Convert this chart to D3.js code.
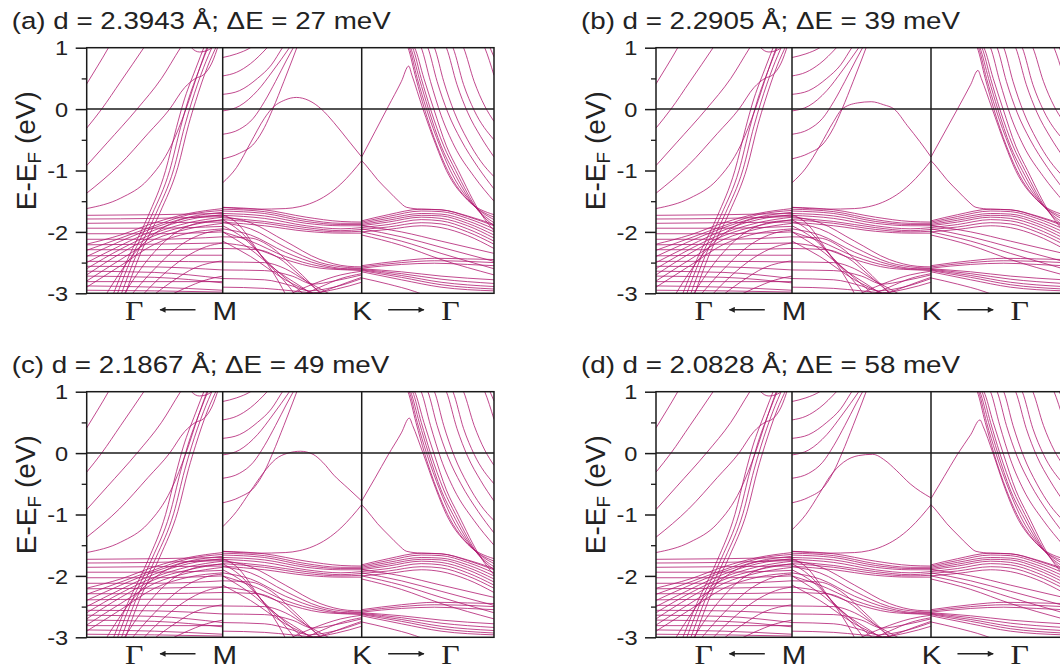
<!DOCTYPE html>
<html>
<head>
<meta charset="utf-8">
<script src="https://cdn.jsdelivr.net/npm/d3@7"></script>
<style>
  body { margin: 0; background: #fff; }
  svg { display: block; }
</style>
</head>
<body>
<div id="chart"></div>
<script>

//~~~~~~~~~~~~~~~~~~DATA

// panel titles
const panelTags = ['(a)', '(b)', '(c)', '(d)'];
const distances = ['2.3943', '2.2905', '2.1867', '2.0828'];
const deltaE = [27, 39, 49, 58];

// y axis ticks (eV)
const yTicks = [1, 0, -1, -2, -3];
const yMinorTicks = [0.5, -0.5, -1.5, -2.5];

// k-path labels
const pathLabels = ['\u0393', 'M', 'K', '\u0393'];

// bands are lists of [t, E],
// t goes 0..1 inside each piece of the k-path

// piece 1: left edge (towards Gamma) -> M
const bandsGM = [
  // free-electron-like bands
  [[0, 0.41], [0.08, 0.7], [0.16, 1.0], [0.22, 1.25]],
  [[0, -0.31], [0.11, 0], [0.25, 0.45], [0.42, 1.0], [0.48, 1.2]],
  [[0, -0.92], [0.15, -0.55], [0.37, 0], [0.55, 0.5], [0.69, 1.0], [0.75, 1.2]],
  [[0, -1.37], [0.24, -0.91], [0.45, -0.4], [0.61, 0], [0.72, 0.35], [0.8, 0.5], [0.86, 0.56], [0.92, 0.75], [0.97, 1.05]],
  [[0, -1.62], [0.25, -1.45], [0.45, -1.15], [0.62, -0.6], [0.73, 0], [0.82, 0.6], [0.9, 1.1]],
  [[0.73, 1.15], [0.77, 1.0], [0.83, 0.93], [0.88, 0.95], [0.93, 1.03], [0.96, 1.15]],
  // steep bands coming up from the bottom
  [[0.18, -3.1], [0.3, -2.45], [0.45, -1.75], [0.58, -1.0], [0.66, -0.3], [0.71, 0.1], [0.8, 0.65], [0.87, 1.05]],
  [[0.21, -3.1], [0.33, -2.42], [0.48, -1.72], [0.61, -1.0], [0.69, -0.3], [0.74, 0.1], [0.83, 0.66], [0.9, 1.05]],
  [[0.24, -3.1], [0.36, -2.4], [0.51, -1.7], [0.64, -0.98], [0.72, -0.28], [0.77, 0.1], [0.86, 0.68], [0.93, 1.05]],
  [[0.27, -3.1], [0.39, -2.38], [0.54, -1.68], [0.67, -0.95], [0.75, -0.25], [0.8, 0.12], [0.89, 0.7], [0.96, 1.05]],
  // main dispersive bundle rising to M
  [[0, -2.2], [0.25, -2.05], [0.5, -1.85], [0.75, -1.7], [1, -1.62]],
  [[0, -2.3], [0.25, -2.1], [0.5, -1.9], [0.75, -1.72], [1, -1.65]],
  [[0, -2.4], [0.25, -2.15], [0.5, -1.93], [0.75, -1.76], [1, -1.68]],
  [[0, -2.5], [0.25, -2.22], [0.5, -1.97], [0.75, -1.8], [1, -1.72]],
  [[0, -2.6], [0.25, -2.28], [0.5, -2.02], [0.75, -1.85], [1, -1.76]],
  [[0, -2.7], [0.25, -2.35], [0.5, -2.06], [0.75, -1.9], [1, -1.8]],
  [[0, -2.8], [0.25, -2.45], [0.5, -2.12], [0.75, -1.95], [1, -1.86]],
  [[0, -2.9], [0.25, -2.55], [0.5, -2.2], [0.75, -2.02], [1, -1.95]],
  // flat bands
  [[0, -1.73], [0.5, -1.72], [1, -1.7]],
  [[0, -1.79], [0.5, -1.78], [1, -1.75]],
  [[0, -1.86], [0.5, -1.85], [1, -1.84]],
  [[0, -1.94], [0.5, -1.94], [1, -1.91]],
  [[0, -2.03], [0.5, -2.03], [1, -2.0]],
  [[0, -2.12], [0.5, -2.12], [1, -2.08]],
  [[0, -2.21], [0.5, -2.2], [1, -2.18]],
  [[0, -2.29], [0.5, -2.29], [1, -2.27]],
  [[0, -2.39], [0.5, -2.38], [1, -2.38]],
  [[0, -2.48], [0.5, -2.48], [1, -2.49]],
  [[0, -2.56], [0.5, -2.57], [1, -2.62]],
  [[0, -2.64], [0.5, -2.66], [1, -2.76]],
  [[0, -2.72], [0.5, -2.74], [1, -2.83]],
  [[0, -2.81], [0.5, -2.81], [1, -2.81]],
  [[0, -2.88], [0.5, -2.9], [1, -2.95]],
  [[0, -2.95], [0.5, -2.96], [1, -2.98]],
  // domes rising from the bottom towards M
  [[0.12, -3.1], [0.35, -2.35], [0.55, -1.95], [0.78, -1.76], [1, -1.73]],
  [[0.25, -3.1], [0.45, -2.45], [0.65, -2.02], [0.85, -1.84], [1, -1.81]],
  [[0.3, -3.1], [0.5, -2.6], [0.7, -2.2], [0.87, -2.02], [1, -1.97]],
  [[0.38, -3.1], [0.55, -2.72], [0.72, -2.42], [0.88, -2.24], [1, -2.18]],
  [[0.45, -3.1], [0.62, -2.82], [0.8, -2.58], [1, -2.47]],
  [[0.55, -3.1], [0.72, -2.92], [0.88, -2.78], [1, -2.72]]
];

// piece 2: M -> K
const bandsMK = [
  // bands leaving through the top
  [[0, 0.84], [0.1, 0.9], [0.2, 1.0], [0.25, 1.08]],
  [[0, 0.54], [0.1, 0.6], [0.2, 0.74], [0.32, 1.0], [0.36, 1.1]],
  [[0, 0.24], [0.12, 0.3], [0.25, 0.5], [0.35, 0.72], [0.43, 1.0], [0.46, 1.1]],
  [[0, -0.03], [0.12, 0.05], [0.25, 0.3], [0.36, 0.62], [0.48, 1.0], [0.51, 1.1]],
  [[0, -0.41], [0.12, -0.33], [0.22, -0.15], [0.3, 0.12], [0.38, 0.45], [0.46, 0.8], [0.52, 1.05]],
  [[0, -0.81], [0.12, -0.72], [0.23, -0.55], [0.3, -0.3], [0.36, 0], [0.44, 0.45], [0.5, 0.8], [0.55, 1.1]],
  // lower Dirac band
  [[0, -1.6], [0.25, -1.63], [0.45, -1.62], [0.55, -1.59], [0.65, -1.52], [0.75, -1.4], [0.85, -1.22], [0.93, -1.03], [1, -0.84]],
  // bundle M -> K around -1.8
  [[0, -1.6], [0.3, -1.64], [0.6, -1.76], [0.85, -1.83], [1, -1.84]],
  [[0, -1.63], [0.3, -1.67], [0.6, -1.8], [0.85, -1.86], [1, -1.86]],
  [[0, -1.66], [0.3, -1.7], [0.6, -1.83], [0.85, -1.88], [1, -1.88]],
  [[0, -1.7], [0.3, -1.74], [0.6, -1.86], [0.85, -1.9], [1, -1.9]],
  [[0, -1.73], [0.3, -1.78], [0.6, -1.9], [0.85, -1.95], [1, -1.93]],
  [[0, -1.77], [0.3, -1.83], [0.6, -1.93], [0.85, -1.98], [1, -1.96]],
  [[0, -1.8], [0.3, -1.86], [0.6, -1.96], [0.85, -2.0], [1, -1.99]],
  [[0, -1.84], [0.3, -1.9], [0.6, -1.99], [0.85, -2.02], [1, -2.02]],
  // bands falling into K near -2.6
  [[0, -1.75], [0.2, -1.85], [0.45, -2.15], [0.7, -2.45], [0.9, -2.56], [1, -2.57]],
  [[0, -1.85], [0.2, -1.95], [0.45, -2.25], [0.7, -2.5], [0.9, -2.58], [1, -2.59]],
  [[0, -1.95], [0.2, -2.05], [0.45, -2.33], [0.7, -2.53], [0.9, -2.6], [1, -2.6]],
  [[0, -2.0], [0.2, -2.15], [0.45, -2.4], [0.7, -2.56], [0.9, -2.61], [1, -2.61]],
  [[0, -2.18], [0.2, -2.25], [0.45, -2.45], [0.7, -2.59], [0.9, -2.62], [1, -2.63]],
  // bands crossing down to the bottom
  [[0, -1.72], [0.1, -1.85], [0.25, -2.3], [0.4, -2.8], [0.46, -3.05]],
  [[0, -1.8], [0.12, -1.98], [0.3, -2.45], [0.48, -2.9], [0.53, -3.05]],
  [[0, -1.9], [0.15, -2.1], [0.35, -2.55], [0.55, -2.95], [0.6, -3.05]],
  [[0, -2.0], [0.18, -2.25], [0.4, -2.65], [0.62, -2.98], [0.66, -3.05]],
  [[0, -2.15], [0.2, -2.4], [0.45, -2.78], [0.65, -3.0], [0.7, -3.05]],
  // flat at M, then bending down
  [[0, -2.08], [0.2, -2.1], [0.35, -2.25], [0.5, -2.55], [0.65, -2.88], [0.72, -3.05]],
  [[0, -2.27], [0.25, -2.29], [0.4, -2.42], [0.55, -2.7], [0.7, -2.98], [0.75, -3.05]],
  [[0, -2.49], [0.3, -2.5], [0.45, -2.6], [0.6, -2.8], [0.72, -2.95], [0.8, -3.05]],
  [[0, -2.62], [0.3, -2.63], [0.5, -2.72], [0.65, -2.85], [0.8, -2.8], [1, -2.7]],
  [[0, -2.76], [0.3, -2.78], [0.5, -2.88], [0.62, -2.96], [0.8, -2.9], [1, -2.76]],
  [[0, -2.9], [0.3, -2.92], [0.5, -2.96], [0.65, -2.99], [0.82, -2.93], [1, -2.82]],
  // rising from the bottom into K
  [[0.45, -3.05], [0.65, -2.85], [0.85, -2.7], [1, -2.64]],
  [[0.55, -3.05], [0.7, -2.9], [0.85, -2.76], [1, -2.68]],
  [[0.62, -3.05], [0.77, -2.93], [0.9, -2.82], [1, -2.74]]
];

// piece 3: K -> right edge (towards Gamma)
const bandsKG = [
  // lower Dirac band
  [[0, -0.84], [0.03, -0.91], [0.12, -1.15], [0.21, -1.35], [0.28, -1.5], [0.34, -1.6], [0.45, -1.63], [0.6, -1.64], [0.8, -1.74], [1, -1.88]],
  // steep bundle coming down from the top
  [[0.33, 1.1], [0.35, 1.0], [0.41, 0.5], [0.475, 0], [0.57, -0.6], [0.65, -1.0], [0.82, -1.52], [1, -1.76]],
  [[0.34, 1.1], [0.36, 1.0], [0.42, 0.5], [0.49, 0], [0.59, -0.6], [0.67, -1.0], [0.84, -1.55], [1, -1.8]],
  [[0.35, 1.1], [0.37, 1.0], [0.435, 0.5], [0.505, 0], [0.6, -0.6], [0.69, -1.0], [0.86, -1.6], [1, -1.85]],
  [[0.36, 1.1], [0.385, 1.0], [0.45, 0.5], [0.52, 0], [0.62, -0.6], [0.71, -1.0], [0.88, -1.65], [1, -1.9]],
  [[0.37, 1.1], [0.4, 1.0], [0.47, 0.5], [0.545, 0], [0.64, -0.6], [0.73, -1.0], [0.9, -1.7], [1, -1.98]],
  // sparser steep bands
  [[0.44, 1.05], [0.45, 1.0], [0.52, 0.45], [0.6, -0.1], [0.7, -0.6], [0.85, -1.1], [1, -1.5]],
  [[0.49, 1.05], [0.5, 1.0], [0.57, 0.45], [0.65, -0.05], [0.75, -0.5], [0.88, -0.95], [1, -1.3]],
  [[0.54, 1.05], [0.55, 1.0], [0.62, 0.45], [0.7, -0.05], [0.8, -0.5], [0.9, -0.85], [1, -1.1]],
  [[0.63, 1.05], [0.64, 1.0], [0.72, 0.4], [0.8, -0.05], [0.9, -0.45], [1, -0.78]],
  [[0.68, 1.05], [0.69, 1.0], [0.77, 0.4], [0.85, -0.02], [1, -0.5]],
  [[0.76, 1.05], [0.77, 1.0], [0.85, 0.45], [0.93, 0.05], [1, -0.2]],
  [[0.92, 1.05], [0.93, 1.0], [1, 0.55]],
  [[0.96, 1.05], [0.97, 1.0], [1, 0.85]],
  // bundle around -1.8
  [[0, -1.82], [0.2, -1.72], [0.45, -1.63], [0.6, -1.64], [0.8, -1.75], [1, -1.9]],
  [[0, -1.84], [0.2, -1.75], [0.45, -1.66], [0.6, -1.67], [0.8, -1.78], [1, -1.95]],
  [[0, -1.86], [0.2, -1.78], [0.45, -1.7], [0.6, -1.71], [0.8, -1.82], [1, -2.0]],
  [[0, -1.88], [0.2, -1.81], [0.45, -1.73], [0.6, -1.74], [0.8, -1.86], [1, -2.05]],
  [[0, -1.9], [0.2, -1.84], [0.45, -1.76], [0.6, -1.78], [0.8, -1.9], [1, -2.1]],
  [[0, -1.93], [0.2, -1.88], [0.45, -1.8], [0.6, -1.82], [0.8, -1.95], [1, -2.15]],
  [[0, -1.96], [0.2, -1.92], [0.45, -1.85], [0.6, -1.87], [0.8, -2.0], [1, -2.2]],
  [[0, -2.0], [0.2, -1.96], [0.45, -1.9], [0.6, -1.93], [0.8, -2.06], [1, -2.27]],
  // bands sloping down from K
  [[0, -1.9], [0.3, -2.0], [0.6, -2.15], [1, -2.35]],
  [[0, -1.95], [0.3, -2.08], [0.6, -2.25], [1, -2.48]],
  [[0, -2.0], [0.3, -2.15], [0.6, -2.35], [1, -2.6]],
  [[0, -2.05], [0.3, -2.22], [0.6, -2.45], [1, -2.7]],
  // lower group around -2.5
  [[0, -2.55], [0.3, -2.47], [0.55, -2.43], [0.8, -2.44], [1, -2.45]],
  [[0, -2.57], [0.3, -2.5], [0.55, -2.47], [0.8, -2.48], [1, -2.5]],
  [[0, -2.59], [0.3, -2.53], [0.55, -2.51], [0.8, -2.53], [1, -2.55]],
  // fan spreading down
  [[0, -2.6], [0.3, -2.65], [0.6, -2.72], [1, -2.78]],
  [[0, -2.61], [0.3, -2.68], [0.6, -2.77], [1, -2.84]],
  [[0, -2.62], [0.3, -2.71], [0.6, -2.82], [1, -2.89]],
  [[0, -2.63], [0.3, -2.74], [0.6, -2.86], [1, -2.93]],
  [[0, -2.65], [0.3, -2.78], [0.6, -2.9], [1, -2.96]],
  [[0, -2.75], [0.2, -2.85], [0.4, -2.97], [0.5, -3.05]]
];

// the band that peaks near E_F between M and K, one per panel
const archMK = [
  [[0, -1.2], [0.1, -0.95], [0.2, -0.55], [0.3, -0.15], [0.35, 0], [0.45, 0.15], [0.53, 0.19], [0.62, 0.14], [0.71, 0], [0.8, -0.22], [0.9, -0.5], [1, -0.78]],
  [[0, -1.2], [0.1, -0.96], [0.2, -0.6], [0.3, -0.2], [0.36, 0], [0.47, 0.1], [0.57, 0.12], [0.66, 0.07], [0.735, 0], [0.83, -0.27], [0.92, -0.53], [1, -0.78]],
  [[0, -1.2], [0.1, -0.95], [0.2, -0.62], [0.29, -0.33], [0.38, -0.1], [0.47, 0.0], [0.56, 0.03], [0.65, -0.02], [0.72, -0.15], [0.8, -0.36], [0.9, -0.57], [1, -0.78]],
  [[0, -1.25], [0.1, -1.0], [0.2, -0.65], [0.27, -0.39], [0.37, -0.15], [0.48, -0.04], [0.58, -0.02], [0.67, -0.12], [0.75, -0.28], [0.85, -0.5], [1, -0.73]]
];

// the band rising from K to its peak and then joining the steep bundle, one per panel
const diracKG = [
  [[0, -0.78], [0.1, -0.37], [0.2, 0.04], [0.3, 0.45], [0.355, 0.7], [0.38, 0.55], [0.46, 0.02], [0.56, -0.58], [0.64, -1.0], [0.8, -1.48], [1, -1.72]],
  [[0, -0.78], [0.1, -0.39], [0.2, 0.0], [0.3, 0.4], [0.355, 0.63], [0.38, 0.5], [0.46, 0.02], [0.56, -0.58], [0.64, -1.0], [0.8, -1.48], [1, -1.72]],
  [[0, -0.78], [0.1, -0.41], [0.2, -0.03], [0.3, 0.33], [0.36, 0.57], [0.385, 0.45], [0.46, 0.02], [0.56, -0.58], [0.64, -1.0], [0.8, -1.48], [1, -1.72]],
  [[0, -0.74], [0.1, -0.38], [0.2, -0.02], [0.3, 0.3], [0.37, 0.54], [0.395, 0.43], [0.465, 0.02], [0.56, -0.58], [0.64, -1.0], [0.8, -1.48], [1, -1.72]]
];


//~~~~~~~~~~~~~~~~~~VARIABLES

let width = 1060;
let height = 672;

// size of one plot frame
let plotW = 407.3;
let plotH = 245.6;

// top left corner of each frame
let panelOrigins = [[86.7, 47.7], [656, 47.7], [86.7, 391.7], [656, 391.7]];

let bandColor = '#b0166e';
let frameColor = '#1a1a1a';
let sans = '"Liberation Sans", Arial, Helvetica, sans-serif';
let serif = '"Liberation Serif", "Times New Roman", serif';

// the picture is a little stretched sideways, text is widened to match
let stretch = 1.18;

// k-path: left edge, M, K, right edge
let x = d3.scaleLinear().domain([0, 1, 2, 3]).range([0, 136, 275, plotW]);
let y = d3.scaleLinear().domain([-3, 1]).range([plotH, 0]);

let svg = d3.select('#chart')
  .append('svg')
  .attr('width', width)
  .attr('height', height);

let defs = svg.append('defs');

// arrow head for the k-path direction arrows
defs.append('marker')
  .attr('id', 'arrow')
  .attr('viewBox', '0 0 10 10')
  .attr('refX', 9)
  .attr('refY', 5)
  .attr('markerWidth', 8)
  .attr('markerHeight', 6)
  .attr('markerUnits', 'userSpaceOnUse')
  .attr('orient', 'auto')
  .append('path')
  .attr('d', 'M0,0 L10,5 L0,10 Z')
  .attr('fill', '#222');


//~~~~~~~~~~~~~~~~~~PANELS

function drawPanel(i) {

  let g = svg.append('g')
    .attr('transform', 'translate(' + panelOrigins[i][0] + ',' + panelOrigins[i][1] + ')');

  // clip the bands to the frame
  defs.append('clipPath')
    .attr('id', 'clip-' + i)
    .append('rect')
    .attr('width', plotW)
    .attr('height', plotH);

  let bandG = g.append('g')
    .attr('clip-path', 'url(#clip-' + i + ')');

  // every piece of the path starts at its own k value
  let pieces = [
    { start: 0, bands: bandsGM },
    { start: 1, bands: bandsMK.concat([archMK[i]]) },
    { start: 2, bands: bandsKG.concat([diracKG[i]]) }
  ];

  pieces.forEach(function(p) {
    let line = d3.line()
      .x(function(d) { return x(p.start + d[0]); })
      .y(function(d) { return y(d[1]); })
      .curve(d3.curveMonotoneX);

    bandG.selectAll(null)
      .data(p.bands)
      .enter()
      .append('path')
      .attr('d', line)
      .attr('fill', 'none')
      .attr('stroke', bandColor)
      .attr('stroke-width', 1)
      .attr('stroke-opacity', 0.78);
  });

  // frame, Fermi level and the M, K lines
  g.append('rect')
    .attr('width', plotW)
    .attr('height', plotH)
    .attr('fill', 'none')
    .attr('stroke', frameColor)
    .attr('stroke-width', 1.5);

  g.append('line')
    .attr('x1', 0).attr('x2', plotW)
    .attr('y1', y(0)).attr('y2', y(0))
    .attr('stroke', frameColor)
    .attr('stroke-width', 1.5);

  g.selectAll('.kline')
    .data([1, 2])
    .enter()
    .append('line')
    .attr('class', 'kline')
    .attr('x1', function(d) { return x(d); })
    .attr('x2', function(d) { return x(d); })
    .attr('y1', 0).attr('y2', plotH)
    .attr('stroke', frameColor)
    .attr('stroke-width', 1.5);

  // y axis, major ticks with labels
  let yAxis = g.append('g')
    .call(d3.axisLeft(y).tickValues(yTicks).tickSize(11).tickFormat(function(d) { return String(d); }));
  yAxis.select('.domain').remove();
  yAxis.selectAll('line').attr('stroke', frameColor).attr('stroke-width', 1.5);
  yAxis.selectAll('text')
    .attr('x', 0)
    .attr('dy', '0.36em')
    .attr('transform', 'translate(-18.5,0) scale(' + stretch + ',1)')
    .attr('font-family', sans)
    .attr('font-size', 20)
    .attr('fill', '#222');

  // minor ticks
  let yMinor = g.append('g')
    .call(d3.axisLeft(y).tickValues(yMinorTicks).tickSize(5).tickFormat(''));
  yMinor.select('.domain').remove();
  yMinor.selectAll('line').attr('stroke', frameColor).attr('stroke-width', 1.3);

  // y axis title
  let yTitle = g.append('text')
    .attr('transform', 'translate(-61,103) rotate(-90)')
    .attr('text-anchor', 'middle')
    .attr('dy', '0.36em')
    .attr('font-family', sans)
    .attr('font-size', 28)
    .attr('fill', '#222');
  yTitle.append('tspan').text('E-E');
  yTitle.append('tspan').attr('font-size', 19).attr('dy', '0.25em').text('F');
  yTitle.append('tspan').attr('dy', '-0.18em').text(' (eV)');

  // panel title
  g.append('text')
    .attr('transform', 'translate(-75,-19) scale(' + stretch + ',1)')
    .attr('font-family', sans)
    .attr('font-size', 23.5)
    .attr('fill', '#222')
    .text(panelTags[i] + ' d = ' + distances[i] + ' \u00c5; \u0394E = ' + deltaE[i] + ' meV');

  // k-path labels under the frame
  let labelX = [x(0.35), x(1) + 2, x(2) + 0.5, x(2.67)];
  g.selectAll('.klabel')
    .data(pathLabels)
    .enter()
    .append('text')
    .attr('class', 'klabel')
    .attr('transform', function(d, j) { return 'translate(' + labelX[j] + ',' + (plotH + 26.5) + ') scale(' + stretch + ',1)'; })
    .attr('text-anchor', 'middle')
    .attr('font-family', function(d) { return d === 'M' || d === 'K' ? sans : serif; })
    .attr('font-size', function(d) { return d === 'M' || d === 'K' ? 25 : 27; })
    .attr('fill', '#222')
    .text(function(d) { return d; });

  // direction arrows: towards Gamma on both sides
  let arrows = [[x(0.8), x(0.54)], [x(2.2), x(2.47)]];
  g.selectAll('.karrow')
    .data(arrows)
    .enter()
    .append('line')
    .attr('class', 'karrow')
    .attr('x1', function(d) { return d[0]; })
    .attr('x2', function(d) { return d[1]; })
    .attr('y1', plotH + 16.5)
    .attr('y2', plotH + 16.5)
    .attr('stroke', '#222')
    .attr('stroke-width', 1.5)
    .attr('marker-end', 'url(#arrow)');
}

for (let i = 0; i < 4; i++) {
  drawPanel(i);
}

</script>
</body>
</html>
